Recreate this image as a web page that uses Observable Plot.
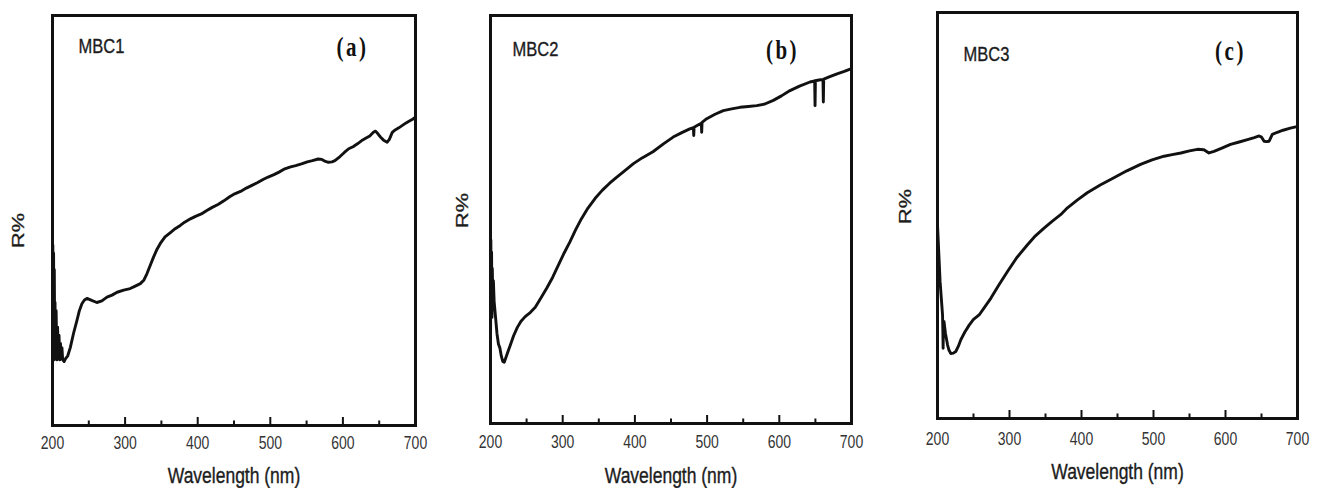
<!DOCTYPE html>
<html>
<head>
<meta charset="utf-8">
<script src="https://cdn.jsdelivr.net/npm/d3@7"></script>
<script src="https://cdn.jsdelivr.net/npm/@observablehq/plot@0.6"></script>
<style>
  html, body { margin: 0; padding: 0; background: #fff; }
  #wrap { position: relative; width: 1320px; height: 488px; overflow: hidden; }
  #wrap svg { position: absolute; top: 0; overflow: visible; }
</style>
</head>
<body>
<div id="wrap"></div>
<script>
// ---- data (wavelength in nm, reflectance R% in arbitrary units 0–100 of the panel height) ----
const majorTicks = [200, 300, 400, 500, 600, 700];
const minorTicks = [250, 350, 450, 550, 650];
const sampleNames = ["MBC1", "MBC2", "MBC3"];
const panelTags = ["(a)", "(b)", "(c)"];

const wavelengthA = [200, 200.5, 201, 201.5, 202, 202.5, 203, 203.5, 204, 205, 206, 207, 208, 209, 210, 211, 212, 213, 214, 216, 218, 221, 224.5, 229, 233.6, 237, 240.5, 244, 247.5, 254, 261, 268, 275, 282, 289, 298, 307, 314, 321, 326, 330, 334, 339, 344, 348.5, 355, 362, 369, 376, 382, 390, 397, 405, 412, 420, 428, 436, 444, 451, 459, 467, 474, 482, 490, 497, 505, 512, 520, 528, 535, 543, 551, 558, 566, 571, 576, 580, 585, 589, 596, 602, 608, 614, 620, 626, 632, 637, 642, 645, 648, 652, 656, 661, 664, 668, 672, 677, 682, 687, 691, 696, 700];
const reflA = [13, 44, 20, 42, 16, 38, 22, 30, 17, 28, 16, 24, 17, 22, 16, 20, 16.5, 19, 16, 15.6, 16.3, 17, 19, 22.5, 25.6, 28, 29.7, 30.6, 31, 30.5, 30, 30.4, 31.3, 31.8, 32.5, 33, 33.4, 34, 34.6, 35.5, 37, 38.8, 41, 43, 44.4, 46, 47, 48, 48.8, 49.6, 50.4, 51, 51.6, 52.4, 53.2, 53.9, 54.8, 55.8, 56.5, 57.1, 57.9, 58.5, 59.2, 60, 60.6, 61.2, 61.8, 62.6, 63.1, 63.4, 63.8, 64.3, 64.6, 65, 64.9, 64.4, 64.2, 64.3, 64.6, 65.6, 66.6, 67.5, 68, 68.7, 69.5, 70.1, 70.6, 71.5, 71.8, 71.2, 70.3, 69.6, 69.1, 69.8, 71.5, 72.1, 72.6, 73.2, 73.8, 74.2, 74.7, 75.2];

const wavelengthB = [200, 200.5, 201, 201.5, 202, 202.5, 203, 204, 205, 207, 209, 211, 213, 215, 217, 219, 221, 224, 228, 232, 237, 242, 248, 255, 262, 270, 278, 286, 294, 302, 310, 318, 326, 335, 345, 355, 365, 375, 387, 398, 410, 425, 440, 453, 465, 476, 481, 481.5, 482, 488, 492, 492.5, 493, 499.5, 511, 522.5, 534, 545.5, 557, 568.7, 580, 591.7, 603, 614.8, 628, 642.5, 649, 649.5, 650, 655, 660.5, 661, 661.5, 670, 680, 690, 700];
const reflB = [16, 45, 30, 42, 26, 38, 33, 35, 30, 26, 22, 19.5, 18.5, 16.5, 15.2, 15, 16, 17.5, 19.5, 21.5, 23.5, 25, 26.2, 27.2, 28.5, 30.8, 33.2, 35.8, 38.8, 41.8, 44.5, 47.5, 50.2, 52.8, 55.2, 57.2, 58.9, 60.4, 62.1, 63.7, 65.1, 66.6, 68.6, 70.2, 71.3, 72.2, 72.5, 70.6, 72.6, 73.2, 73.6, 71.4, 73.8, 74.7, 75.8, 76.7, 77.1, 77.5, 77.7, 77.9, 78.3, 79.2, 80.3, 81.6, 82.7, 83.7, 84, 77.9, 84, 84.2, 84.3, 78.8, 84.4, 85, 85.7, 86.3, 87];

const wavelengthC = [200, 203.6, 207, 207.5, 207.8, 208.2, 209, 211, 214, 216, 218.5, 222, 225.4, 229, 232.4, 238, 244, 250, 257.8, 265, 274, 285, 297.2, 310, 325, 336, 348, 360, 371, 380.5, 394, 408, 426, 445, 463, 482, 498, 514.7, 526, 538, 550, 561, 570, 577, 584, 595, 607, 619, 630.5, 640, 646.7, 650, 653.6, 657, 660.6, 665, 672, 680, 690, 699, 700];
const reflC = [47.7, 33.7, 25.5, 21, 17.3, 22, 23.9, 21, 18.1, 16.8, 16, 16.1, 16.5, 17.8, 19.4, 21.3, 23, 24.4, 25.5, 27.3, 29.6, 32.8, 36.2, 39.6, 42.8, 45, 46.9, 48.7, 50.2, 51.9, 53.8, 55.6, 57.5, 59.3, 61, 62.6, 63.7, 64.6, 65, 65.4, 65.9, 66.3, 66.2, 65.4, 65.8, 66.6, 67.5, 68.1, 68.7, 69.2, 69.6, 69.3, 68.3, 68.2, 68.3, 70, 70.5, 71, 71.5, 71.9, 72];

const seriesX = [wavelengthA, wavelengthB, wavelengthC];
const seriesY = [reflA, reflB, reflC];

// ---- layout (positions/styles only) ----
const layout = [
  {left: 0,   mL: 52, mR: 25, mT: 15, mB: 63, tickPad: 10.5, titleDy: 50, yLabDx: -34, yLabDy: 10, nameDx: 26, nameDy: 31, tagDx: -63, tagDy: 32},
  {left: 440, mL: 50, mR: 29, mT: 15, mB: 65, tickPad: 12, titleDy: 52, yLabDx: -28, yLabDy: -9, nameDx: 22, nameDy: 34, tagDx: -69, tagDy: 35},
  {left: 880, mL: 57, mR: 23, mT: 12, mB: 70, tickPad: 13.5, titleDy: 53, yLabDx: -32, yLabDy: -9, nameDx: 26, nameDy: 42, tagDx: -67, tagDy: 39}
];
const stretch = 1.28; // the source figure is stretched vertically
const ink = "#111";
const textInk = "#1c1c1c";
const wrap = document.getElementById("wrap");

layout.forEach((L, i) => {
  const xs = seriesX[i], ys = seriesY[i];
  const svg = Plot.plot({
    width: 440,
    height: 488,
    marginLeft: L.mL, marginRight: L.mR, marginTop: L.mT, marginBottom: L.mB,
    style: {fontFamily: "'Liberation Sans', Arial, sans-serif", background: "transparent", color: ink, overflow: "visible"},
    x: {domain: [200, 700], axis: null},
    y: {domain: [0, 100], axis: null},
    marks: [
      Plot.axisX(minorTicks, {tickSize: -4.5, strokeWidth: 2, stroke: ink, fill: "none", label: null}),
      Plot.axisX(majorTicks, {tickSize: -8, strokeWidth: 2, stroke: ink, fill: "none", label: null}),
      Plot.axisX(majorTicks, {tickSize: 0, tickPadding: L.tickPad, fill: "#333", stroke: "#333", strokeWidth: 0.35, fontSize: 14, label: null, tickFormat: d => String(d)}),
      Plot.line(xs, {x: xs, y: ys, stroke: ink, strokeWidth: 2.9, strokeLinejoin: "round", curve: "linear"}),
      Plot.frame({stroke: ink, strokeWidth: 3}),
      Plot.text(["Wavelength (nm)"], {frameAnchor: "bottom", dy: L.titleDy, text: d => d, fontSize: 17.5, fill: textInk, stroke: textInk, strokeWidth: 0.3, lineAnchor: "middle"}),
      Plot.text(["R%"], {frameAnchor: "left", dx: L.yLabDx, dy: L.yLabDy, text: d => d, fontSize: 17, fill: textInk, stroke: textInk, strokeWidth: 0.3, rotate: -90, textAnchor: "middle", lineAnchor: "middle"}),
      Plot.text([sampleNames[i]], {frameAnchor: "top-left", dx: L.nameDx, dy: L.nameDy, text: d => d, fontSize: 16.5, fill: textInk, stroke: textInk, strokeWidth: 0.3, textAnchor: "start", lineAnchor: "middle"}),
      Plot.text([panelTags[i]], {frameAnchor: "top-right", dx: L.tagDx, dy: L.tagDy, text: d => d, fontSize: 21, fontWeight: "bold", fontFamily: "'Liberation Serif', 'Times New Roman', serif", fill: "#111", textAnchor: "middle", lineAnchor: "middle"})
    ]
  });
  // reproduce the vertical stretch of the source figure on all texts
  svg.querySelectorAll("text").forEach(t => {
    const tr = t.getAttribute("transform");
    if (tr) {
      t.setAttribute("transform", tr + (tr.includes("rotate") ? ` scale(${stretch},1)` : ` scale(1,${stretch})`));
    } else {
      const x = +(t.getAttribute("x") || 0), y = +(t.getAttribute("y") || 0);
      t.setAttribute("transform", `translate(${x},${y}) scale(1,${stretch}) translate(${-x},${-y})`);
    }
    if (/^\(.\)$/.test(t.textContent)) t.setAttribute("letter-spacing", "2.5");
  });
  svg.style.left = L.left + "px";
  wrap.appendChild(svg);
});
</script>
</body>
</html>
